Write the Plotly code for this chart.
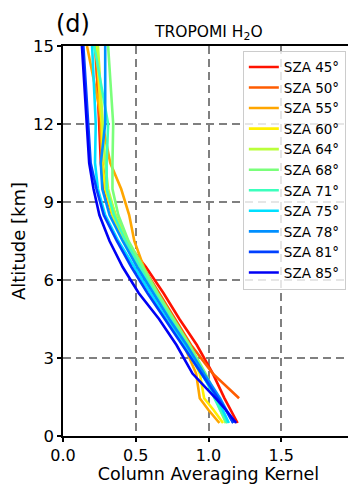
import plotly.graph_objects as go

altitude_km = [15, 12, 10.5, 9.5, 8.5, 7.5, 6.5, 5.5, 4.5, 3.5, 2.4, 1.45, 1.0, 0.5]

sza_labels = ["SZA 45°", "SZA 50°", "SZA 55°", "SZA 60°", "SZA 64°", "SZA 68°",
              "SZA 71°", "SZA 75°", "SZA 78°", "SZA 81°", "SZA 85°"]

cak_45 = [0.226, 0.25, 0.26, 0.28, 0.34, 0.43, 0.57, 0.69, 0.80, 0.92, 1.03, 1.11, 1.155, 1.20]
cak_50 = [0.22, 0.25, 0.27, 0.30, 0.36, 0.44, 0.55, 0.66, 0.77, 0.88, 1.03, 1.21, None, None]
cak_55 = [0.165, 0.27, 0.325, 0.40, 0.455, 0.49, 0.555, 0.64, 0.73, 0.83, 0.915, 0.94, 1.00, 1.075]
cak_60 = [0.23, 0.265, 0.27, 0.29, 0.34, 0.42, 0.52, 0.63, 0.74, 0.85, 0.94, 0.97, 1.035, 1.10]
cak_64 = [0.24, 0.27, 0.29, 0.31, 0.36, 0.44, 0.54, 0.64, 0.75, 0.86, 0.97, 1.05, 1.08, 1.12]
cak_68 = [0.31, 0.345, 0.34, 0.34, 0.38, 0.45, 0.55, 0.65, 0.76, 0.87, 0.98, 1.06, 1.09, 1.12]
cak_71 = [0.215, 0.31, 0.30, 0.30, 0.35, 0.43, 0.53, 0.63, 0.74, 0.85, 0.96, 1.04, 1.08, 1.13]
cak_75 = [0.20, 0.225, 0.22, 0.24, 0.29, 0.38, 0.49, 0.60, 0.71, 0.83, 0.95, 1.06, 1.10, 1.14]
cak_78 = [0.29, 0.29, 0.26, 0.27, 0.32, 0.41, 0.51, 0.62, 0.73, 0.85, 0.97, 1.08, 1.12, 1.17]
cak_81 = [0.14, 0.17, 0.19, 0.23, 0.28, 0.37, 0.47, 0.58, 0.70, 0.82, 0.95, 1.07, 1.12, 1.17]
cak_85 = [0.13, 0.16, 0.18, 0.21, 0.25, 0.32, 0.41, 0.52, 0.66, 0.78, 0.89, 1.05, 1.12, 1.19]

series = [cak_45, cak_50, cak_55, cak_60, cak_64, cak_68, cak_71, cak_75, cak_78, cak_81, cak_85]
colors = ["#ff1200", "#ff5c00", "#ffa600", "#fff000", "#baff3b", "#7aff7a",
          "#3bffbd", "#00e0ff", "#008fff", "#0040ff", "#0000f5"]

x_tickvals = [0, 0.5, 1.0, 1.5]
x_ticktext = ["0.0", "0.5", "1.0", "1.5"]
y_tickvals = [0, 3, 6, 9, 12, 15]

fig = go.Figure()
for name, vals, col in zip(sza_labels, series, colors):
    fig.add_trace(go.Scatter(x=vals, y=altitude_km, mode="lines", name=name,
                             line=dict(color=col, width=2.6), connectgaps=False))

font_family = "DejaVu Sans"
# page body has an 8px margin, so the figure is sized to fill the rest of the window
fig.update_layout(
    width=348, height=476,
    margin=dict(l=55, r=2, t=38, b=48, autoexpand=False),
    paper_bgcolor="white", plot_bgcolor="white",
    font=dict(family=font_family, size=16, color="black"),
    showlegend=True,
    legend=dict(x=0.618, y=0.988, xanchor="left", yanchor="top",
                bgcolor="rgba(255,255,255,0.8)", bordercolor="#cccccc", borderwidth=1,
                font=dict(size=13.5, family=font_family, color="black"),
                tracegroupgap=0, itemwidth=30),
    annotations=[
        dict(text="TROPOMI H<sub>2</sub>O", x=0.5, y=1.0, xref="paper", yref="paper",
             xanchor="center", yanchor="bottom", yshift=1, showarrow=False,
             font=dict(size=15.5, family=font_family, color="black")),
        dict(text="(d)", x=-0.03, y=1.0, xref="paper", yref="paper",
             xanchor="left", yanchor="bottom", yshift=6, showarrow=False,
             font=dict(size=24, family=font_family, color="black")),
    ],
)
fig.update_xaxes(range=[0, 2], tickvals=x_tickvals, ticktext=x_ticktext,
                 ticks="outside", ticklen=4, tickwidth=1.5, tickcolor="black",
                 tickfont=dict(size=16),
                 showline=True, mirror=True, linecolor="black", linewidth=1.5,
                 showgrid=True, gridcolor="#808080", gridwidth=1.6, griddash="8px,5px",
                 zeroline=False, automargin=False,
                 title=dict(text="Column Averaging Kernel", standoff=4,
                            font=dict(size=17.5, family=font_family)))
fig.update_yaxes(range=[0, 15], tickvals=y_tickvals,
                 ticks="outside", ticklen=4, tickwidth=1.5, tickcolor="black",
                 tickfont=dict(size=16.5),
                 showline=True, mirror=True, linecolor="black", linewidth=1.5,
                 showgrid=True, gridcolor="#808080", gridwidth=1.6, griddash="8px,5px",
                 zeroline=False, automargin=False,
                 title=dict(text="Altitude [km]", standoff=4,
                            font=dict(size=18, family=font_family)))

fig.write_html("out.html")
